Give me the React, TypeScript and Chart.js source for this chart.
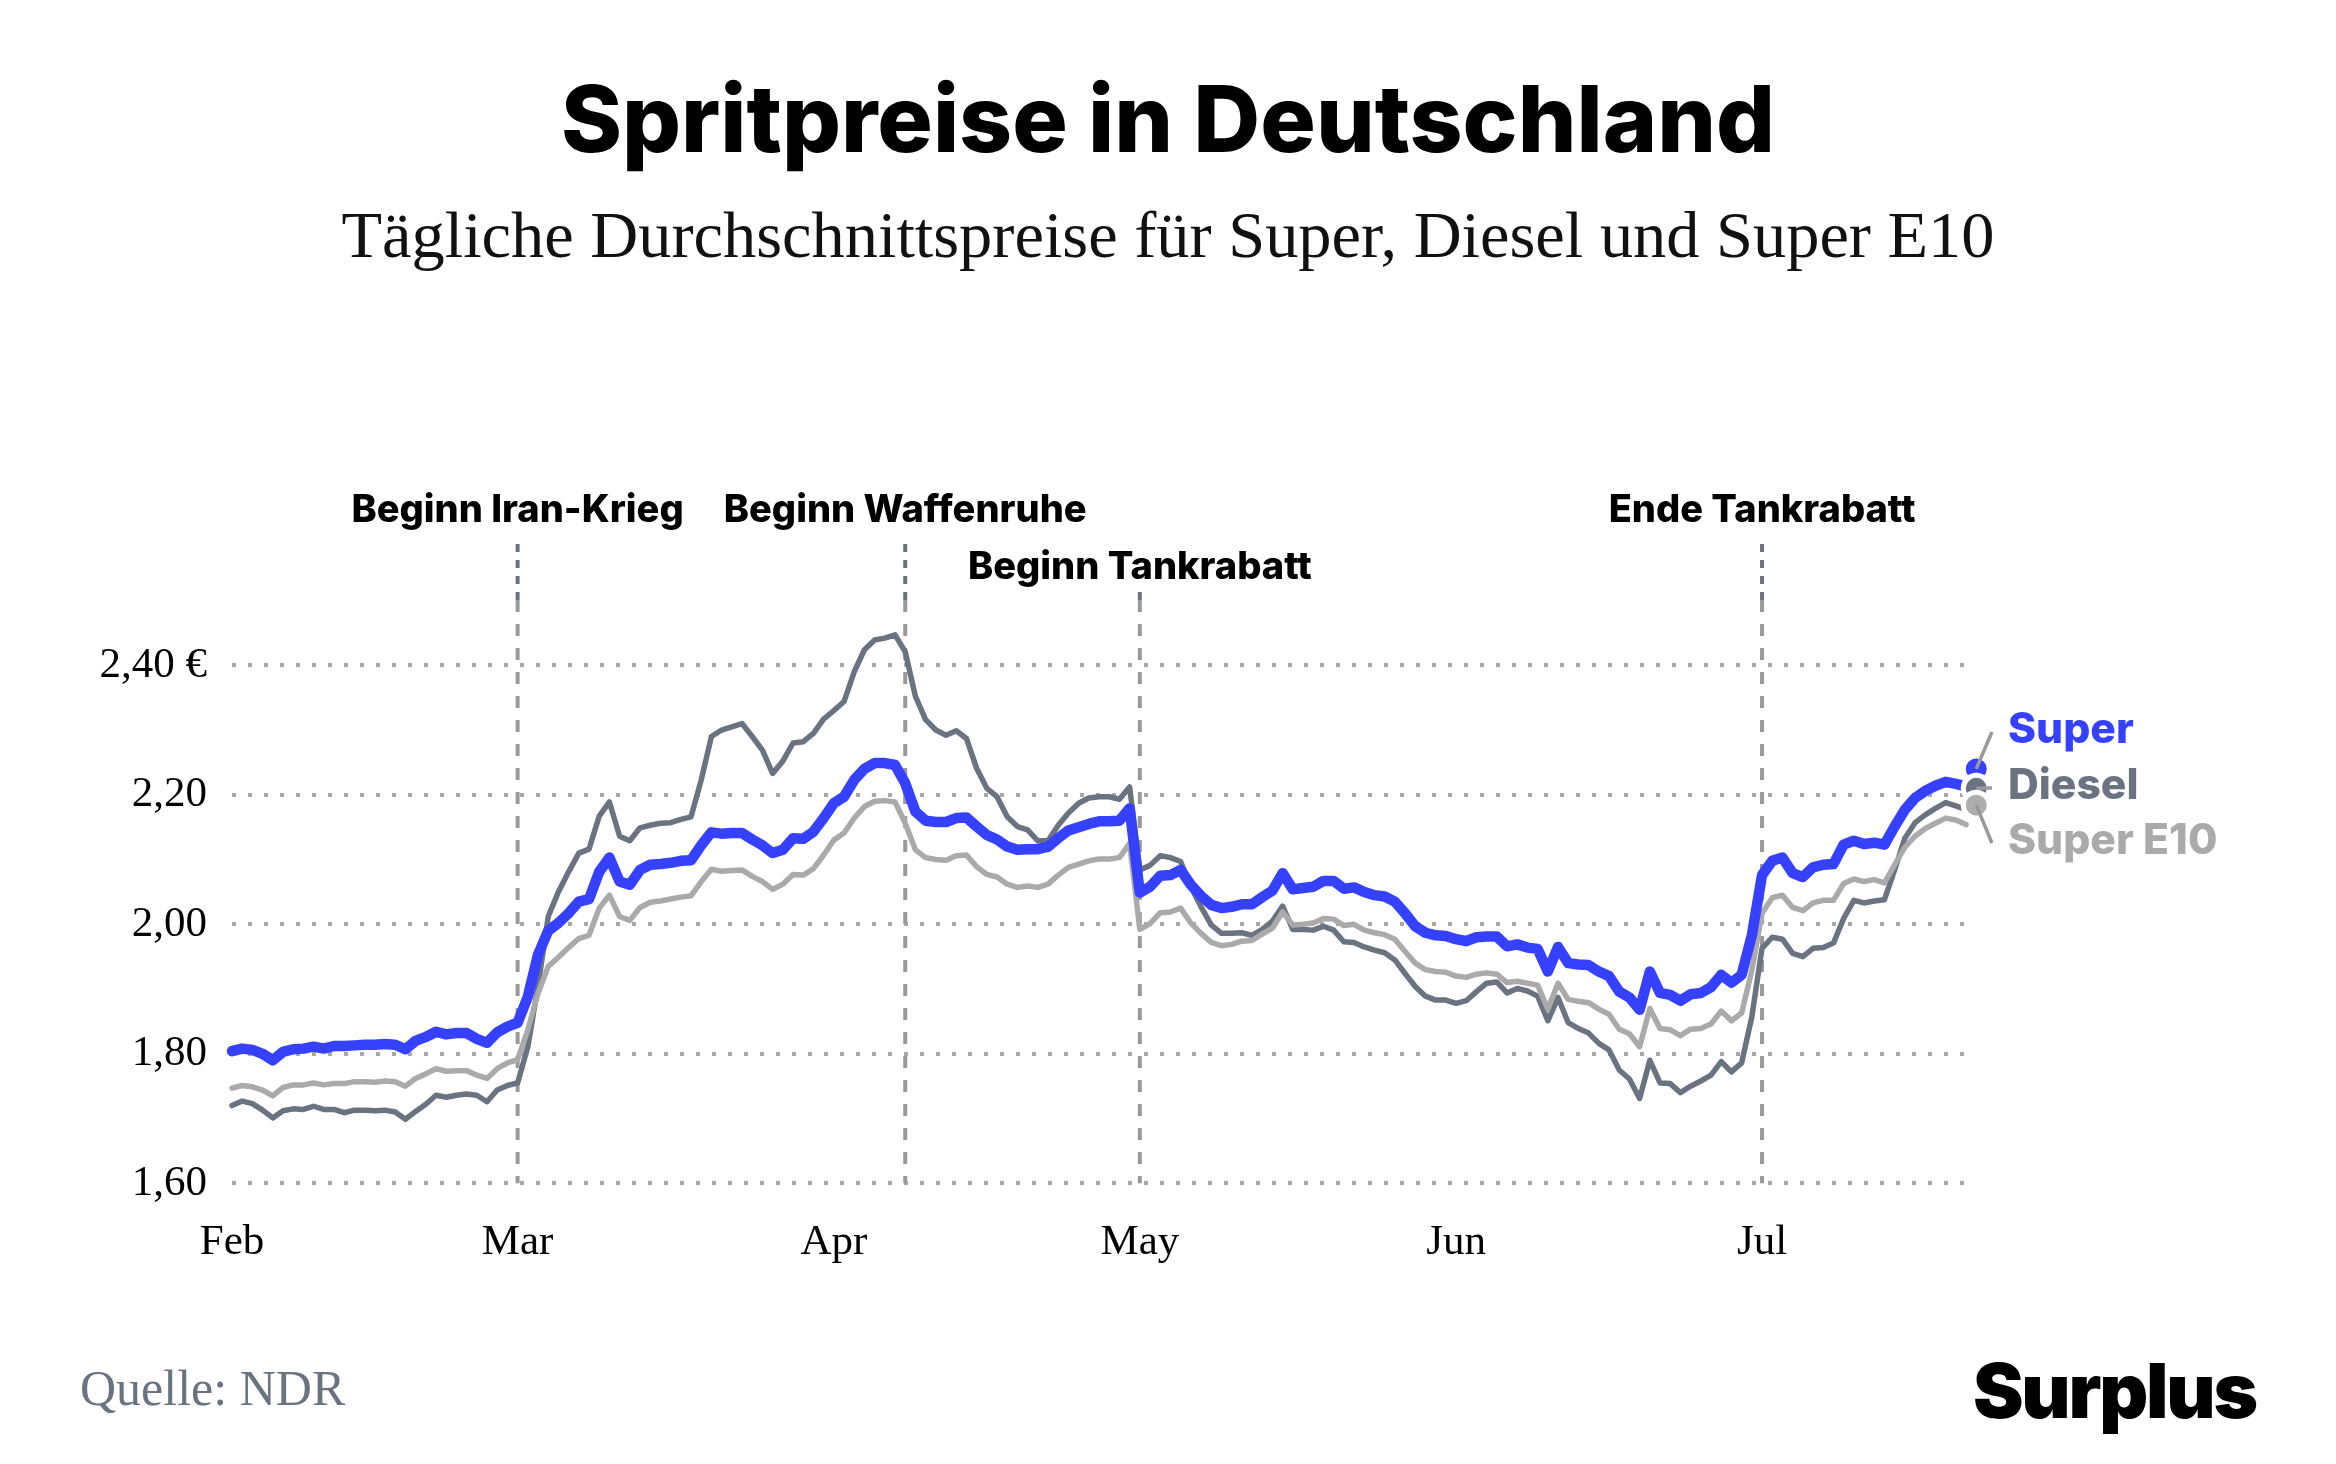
import React, { useEffect, useRef } from 'react';
import Chart from 'chart.js/auto';

// Tägliche Werte, Index 0 = 1. Feb, letzter Index = 22. Jul
const superPrices = [
	1.804, 1.808, 1.806, 1.800, 1.790, 1.803, 1.807, 1.808, 1.811, 1.808, 1.812, 1.812, 1.813, 1.814, 1.814, 1.815, 1.814, 1.807, 1.820, 1.826, 1.834, 1.830, 1.832, 1.832, 1.823, 1.817, 1.833, 1.842, 1.848,
	1.888, 1.953, 1.990, 2.002, 2.017, 2.035, 2.039, 2.081, 2.103, 2.066, 2.061, 2.084, 2.092, 2.093, 2.095, 2.098, 2.099, 2.122, 2.142, 2.140, 2.141, 2.141, 2.131, 2.122, 2.110,
	2.115, 2.133, 2.132, 2.143, 2.164, 2.187, 2.197, 2.223, 2.240, 2.249, 2.249, 2.246, 2.218, 2.174, 2.160, 2.158, 2.158, 2.164, 2.165, 2.151, 2.138, 2.131, 2.120, 2.115, 2.116, 2.116, 2.120, 2.133, 2.145, 2.150, 2.155, 2.159, 2.159, 2.160, 2.179,
	2.049, 2.058, 2.075, 2.076, 2.084, 2.061, 2.044, 2.030, 2.025, 2.027, 2.031, 2.031, 2.042, 2.052, 2.079, 2.054, 2.056, 2.058, 2.067, 2.067, 2.055, 2.057, 2.050, 2.045, 2.043, 2.035, 2.017, 1.997, 1.987, 1.983, 1.982,
	1.977, 1.974, 1.980, 1.981, 1.981, 1.966, 1.969, 1.964, 1.962, 1.927, 1.965, 1.940, 1.938, 1.937, 1.927, 1.920, 1.896, 1.887, 1.868, 1.927, 1.894, 1.891, 1.882, 1.892, 1.894, 1.903, 1.922, 1.910, 1.922,
	1.983, 2.076, 2.098, 2.103, 2.079, 2.073, 2.088, 2.092, 2.093, 2.123, 2.129, 2.124, 2.126, 2.123, 2.151, 2.177, 2.195, 2.206, 2.214, 2.220, 2.217, 2.213, 2.240,
];
const dieselPrices = [
	1.720, 1.727, 1.723, 1.713, 1.701, 1.712, 1.715, 1.714, 1.719, 1.714, 1.714, 1.709, 1.713, 1.713, 1.712, 1.713, 1.710, 1.699, 1.711, 1.722, 1.736, 1.733, 1.736, 1.738, 1.736, 1.726, 1.744, 1.751, 1.755,
	1.811, 1.904, 2.012, 2.050, 2.081, 2.110, 2.116, 2.167, 2.189, 2.136, 2.129, 2.149, 2.153, 2.156, 2.157, 2.162, 2.166, 2.223, 2.290, 2.300, 2.305, 2.310, 2.290, 2.269, 2.233,
	2.252, 2.280, 2.282, 2.295, 2.317, 2.330, 2.344, 2.390, 2.424, 2.439, 2.442, 2.447, 2.421, 2.352, 2.316, 2.300, 2.292, 2.299, 2.287, 2.241, 2.210, 2.197, 2.166, 2.151, 2.146, 2.129, 2.129, 2.153, 2.172, 2.187, 2.195, 2.197, 2.197, 2.193, 2.212,
	2.084, 2.091, 2.106, 2.103, 2.097, 2.058, 2.027, 1.999, 1.986, 1.986, 1.987, 1.983, 1.992, 2.005, 2.028, 1.992, 1.992, 1.991, 1.997, 1.991, 1.973, 1.972, 1.965, 1.960, 1.956, 1.945, 1.924, 1.904, 1.889, 1.883, 1.883,
	1.878, 1.882, 1.896, 1.909, 1.911, 1.894, 1.901, 1.897, 1.889, 1.851, 1.887, 1.848, 1.839, 1.832, 1.816, 1.806, 1.775, 1.761, 1.731, 1.790, 1.755, 1.754, 1.740, 1.750, 1.758, 1.767, 1.788, 1.772, 1.786,
	1.857, 1.963, 1.980, 1.977, 1.955, 1.950, 1.963, 1.964, 1.971, 2.009, 2.037, 2.033, 2.036, 2.038, 2.084, 2.133, 2.157, 2.169, 2.179, 2.188, 2.183, 2.177, 2.210,
];
const e10Prices = [
	1.747, 1.751, 1.749, 1.744, 1.735, 1.748, 1.752, 1.752, 1.755, 1.752, 1.754, 1.754, 1.757, 1.757, 1.756, 1.758, 1.757, 1.750, 1.762, 1.769, 1.777, 1.773, 1.774, 1.774, 1.767, 1.762, 1.777, 1.786, 1.791,
	1.837, 1.893, 1.935, 1.949, 1.964, 1.978, 1.983, 2.025, 2.045, 2.012, 2.006, 2.026, 2.034, 2.036, 2.039, 2.042, 2.044, 2.066, 2.085, 2.082, 2.083, 2.084, 2.074, 2.066, 2.054,
	2.062, 2.077, 2.076, 2.086, 2.107, 2.130, 2.141, 2.164, 2.182, 2.190, 2.191, 2.189, 2.156, 2.115, 2.103, 2.100, 2.099, 2.106, 2.107, 2.089, 2.077, 2.073, 2.062, 2.057, 2.059, 2.057, 2.062, 2.076, 2.088, 2.093, 2.098, 2.101, 2.101, 2.103, 2.125,
	1.992, 2.001, 2.018, 2.019, 2.025, 2.002, 1.986, 1.972, 1.967, 1.969, 1.974, 1.975, 1.985, 1.994, 2.019, 1.999, 2.000, 2.002, 2.009, 2.008, 1.998, 2.000, 1.991, 1.987, 1.984, 1.977, 1.958, 1.940, 1.930, 1.927, 1.926,
	1.920, 1.918, 1.923, 1.925, 1.923, 1.910, 1.912, 1.909, 1.906, 1.869, 1.909, 1.884, 1.881, 1.879, 1.869, 1.861, 1.838, 1.831, 1.811, 1.870, 1.839, 1.837, 1.828, 1.838, 1.839, 1.846, 1.866, 1.851, 1.863,
	1.929, 2.017, 2.041, 2.045, 2.026, 2.021, 2.033, 2.037, 2.037, 2.063, 2.070, 2.066, 2.069, 2.064, 2.092, 2.119, 2.136, 2.148, 2.156, 2.164, 2.161, 2.154, 2.184,
];
const monthDays = [0, 28, 59, 89, 120, 150];
const monthLabels = ['Feb', 'Mar', 'Apr', 'May', 'Jun', 'Jul'];
const priceTicks = [1.6, 1.8, 2.0, 2.2, 2.4];
const priceLabels = ['1,60', '1,80', '2,00', '2,20', '2,40 €'];
const eventDays = [28, 66, 89, 150];
const eventLabels = ['Beginn Iran-Krieg', 'Beginn Waffenruhe', 'Beginn Tankrabatt', 'Ende Tankrabatt'];
const seriesNames = ['Super', 'Diesel', 'Super E10'];

const BLUE = '#3640ff';
const SLATE = '#6b7280';
const LIGHT = '#aaaaaa';
const SERIF = '"Liberation Serif", serif';
const SANS = 'Inter, sans-serif';

const seriesColors = [BLUE, SLATE, LIGHT];
const lastDay = superPrices.length - 1;
const toPoints = (values: number[]) => values.map((y, x) => ({ x, y }));

const lineSet = (values: number[], color: string, width: number, order: number) => ({
	data: toPoints(values),
	borderColor: color,
	borderWidth: width,
	borderJoinStyle: 'round',
	borderCapStyle: 'round',
	pointRadius: 0,
	tension: 0,
	clip: false,
	order,
});

const dotSet = (values: number[], color: string, order: number) => ({
	data: [{ x: lastDay, y: values[lastDay] }],
	showLine: false,
	pointRadius: 13,
	pointBorderWidth: 5,
	pointBackgroundColor: color,
	pointBorderColor: '#ffffff',
	clip: false,
	order,
});

// Senkrechte Ereignislinien: oben dunkler Vorlauf, darunter graue Striche
const eventLinesPlugin = {
	id: 'eventLines',
	beforeDatasetsDraw(chart: any) {
		const { ctx, scales } = chart;
		const tops = [2.5873, 2.5873, 2.5132, 2.5873];
		const split = 2.5008;
		const stroke = (x: number, from: number, to: number, color: string, dash: number[]) => {
			ctx.strokeStyle = color;
			ctx.setLineDash(dash);
			ctx.beginPath();
			ctx.moveTo(x, scales.y.getPixelForValue(from));
			ctx.lineTo(x, scales.y.getPixelForValue(to));
			ctx.stroke();
		};
		ctx.save();
		ctx.lineWidth = 4;
		eventDays.forEach((day, i) => {
			const x = scales.x.getPixelForValue(day);
			stroke(x, tops[i], split, SLATE, [8, 8]);
			stroke(x, split, 1.6, '#999999', [12, 12]);
		});
		ctx.restore();
	},
	afterDatasetsDraw(chart: any) {
		const { ctx, scales } = chart;
		const labelY = [511, 511, 568, 511];
		ctx.save();
		ctx.font = `800 38px ${SANS}`;
		ctx.fillStyle = '#000000';
		ctx.textAlign = 'center';
		ctx.textBaseline = 'middle';
		eventDays.forEach((day, i) => {
			ctx.fillText(eventLabels[i], scales.x.getPixelForValue(day), labelY[i]);
		});
		ctx.restore();
	},
};

// Überschriften, Namen am Linienende, Führungslinien, Quelle und Logo
const textPlugin = {
	id: 'pageText',
	afterDraw(chart: any) {
		const { ctx, scales, width } = chart;
		const labelY = [730, 786, 841];
		const x = scales.x.getPixelForValue(lastDay);
		const ends = [superPrices[lastDay], dieselPrices[lastDay], e10Prices[lastDay]];
		ctx.save();
		ctx.strokeStyle = '#999999';
		ctx.lineWidth = 3.5;
		ends.forEach((value, i) => {
			ctx.beginPath();
			ctx.moveTo(x, scales.y.getPixelForValue(value));
			ctx.lineTo(x + 15.7, labelY[i] + 2);
			ctx.stroke();
		});
		ctx.textAlign = 'center';
		ctx.textBaseline = 'alphabetic';
		ctx.fillStyle = '#000000';
		ctx.font = `800 92.6px ${SANS}`;
		ctx.fillText('Spritpreise in Deutschland', width / 2, 152);
		ctx.fillStyle = '#111111';
		ctx.font = `66.4px ${SERIF}`;
		ctx.fillText('Tägliche Durchschnittspreise für Super, Diesel und Super E10', width / 2, 257);
		ctx.font = `800 42.6px ${SANS}`;
		ctx.textAlign = 'left';
		ctx.textBaseline = 'middle';
		seriesNames.forEach((name, i) => {
			ctx.fillStyle = seriesColors[i];
			ctx.fillText(name, 2008, labelY[i]);
		});
		ctx.font = `50px ${SERIF}`;
		ctx.fillStyle = SLATE;
		ctx.fillText('Quelle: NDR', 80, 1392);
		ctx.font = `900 76px ${SANS}`;
		ctx.letterSpacing = '-2.2px';
		ctx.fillStyle = '#000000';
		ctx.textAlign = 'right';
		ctx.textBaseline = 'alphabetic';
		ctx.fillText('Surplus', 2256, 1418);
		ctx.restore();
	},
};

const App: React.FC = () => {
	const chartRef = useRef<HTMLCanvasElement | null>(null);

	useEffect(() => {
		if (!chartRef.current) return;
		const chart = new Chart(chartRef.current, {
			type: 'line',
			data: {
				datasets: [
					lineSet(dieselPrices, SLATE, 5.5, 6),
					lineSet(e10Prices, LIGHT, 5.5, 5),
					lineSet(superPrices, BLUE, 10.5, 4),
					dotSet(superPrices, BLUE, 3),
					dotSet(dieselPrices, SLATE, 2),
					dotSet(e10Prices, '#adadad', 1),
				],
			},
			options: {
				responsive: false,
				devicePixelRatio: 1,
				animation: false,
				events: [],
				layout: {
					autoPadding: false,
					padding: { left: 0, right: 372, top: 665.3, bottom: 0 },
				},
				plugins: {
					legend: { display: false },
					tooltip: { enabled: false },
				},
				scales: {
					x: {
						type: 'linear',
						min: 0,
						max: 169.8,
						afterBuildTicks: (scale: any) => {
							scale.ticks = monthDays.map((value) => ({ value }));
						},
						afterFit: (scale: any) => {
							scale.height = 1464 - 1183.3;
						},
						grid: { display: false },
						border: { display: false },
						ticks: {
							autoSkip: false,
							maxRotation: 0,
							padding: 26,
							color: '#000000',
							font: { family: SERIF, size: 43 },
							callback: (_v: any, i: number) => monthLabels[i],
						},
					},
					y: {
						min: 1.6,
						max: 2.4,
						afterBuildTicks: (scale: any) => {
							scale.ticks = priceTicks.map((value) => ({ value }));
						},
						afterFit: (scale: any) => {
							scale.width = 232;
						},
						grid: { color: '#a8a8a8', lineWidth: 4, drawTicks: false },
						border: { display: false, dash: [4, 12] },
						ticks: {
							padding: 25,
							color: '#000000',
							font: { family: SERIF, size: 43 },
							callback: (_v: any, i: number) => priceLabels[i],
						},
					},
				},
			},
			plugins: [eventLinesPlugin, textPlugin],
		} as any);

		return () => chart.destroy();
	}, []);

	return (
		<canvas
			ref={chartRef}
			width={2336}
			height={1464}
			style={{ position: 'absolute', left: 0, top: 0, display: 'block' }}
		/>
	);
};

export default App;
